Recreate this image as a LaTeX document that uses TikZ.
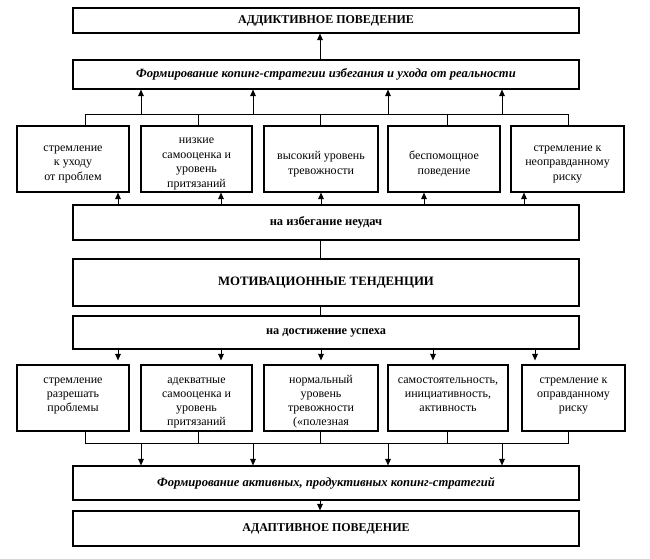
\documentclass[tikz,border=0pt]{standalone}
\usepackage{fontspec}
\setmainfont{Liberation Serif}
\usetikzlibrary{arrows.meta,shadows}
\newcommand{\cellC}[3]{\parbox[c][#2pt][c]{#1pt}{\centering\fontsize{12}{14.5}\selectfont\vspace*{10pt}#3}}
\newcommand{\cellT}[3]{\parbox[c][#2pt][t]{#1pt}{\centering\fontsize{12}{14}\selectfont\vspace*{8.5pt}\strut#3}}
\begin{document}
\begin{tikzpicture}[x=1pt,y=-1pt,
  box/.style={draw=black, line width=1.1pt, fill=white, inner sep=0pt,
    drop shadow={shadow xshift=1.2pt, shadow yshift=-1.2pt, fill=black!60, opacity=0.6}},
  wide/.style={box, minimum width=506pt},
  arr/.style={line width=1pt, -{Triangle[width=5.5pt,length=6.5pt]}},
  ln/.style={line width=1pt},
]
\useasboundingbox (0,0) rectangle (650,559);

% wide boxes
\node[wide, minimum height=25pt] (add) at (326,20.5) {\fontsize{12}{14}\selectfont\bfseries АДДИКТИВНОЕ ПОВЕДЕНИЕ};
\node[wide, minimum height=29pt] (f1) at (326,74.5) {\fontsize{12.6}{14}\selectfont\bfseries\itshape Формирование копинг-стратегии избегания и ухода от реальности};
\node[wide, minimum height=35pt] (izb) at (326,222.5) {\fontsize{12.5}{14}\selectfont\bfseries на избегание неудач};
\node[wide, minimum height=47pt] (mot) at (326,282.5) {\fontsize{12.8}{15}\selectfont\bfseries МОТИВАЦИОННЫЕ ТЕНДЕНЦИИ};
\node[wide, minimum height=33pt] (dos) at (326,332.5) {\fontsize{12.3}{14}\selectfont\bfseries на достижение успеха};
\node[wide, minimum height=34pt] (f2) at (326,483) {\fontsize{12.6}{14}\selectfont\bfseries\itshape Формирование активных, продуктивных копинг-стратегий};
\node[wide, minimum height=35pt] (adp) at (326,528.5) {\fontsize{12}{14}\selectfont\bfseries АДАПТИВНОЕ ПОВЕДЕНИЕ};

% row 1
\node[box] (r1a) at (73,159)   {\cellC{112}{66}{стремление\\к уходу\\от проблем}};
\node[box] (r1b) at (196.5,159){\cellC{111}{66}{низкие\\самооценка и\\уровень\\притязаний}};
\node[box] (r1c) at (321,159)  {\cellC{114}{66}{высокий уровень\\тревожности}};
\node[box] (r1d) at (444,159)  {\cellC{112}{66}{беспомощное\\поведение}};
\node[box] (r1e) at (567.5,159){\cellC{113}{66}{стремление к\\неоправданному\\риску}};

% row 2
\node[box] (r2a) at (73,398)   {\cellT{112}{66}{стремление\\разрешать\\проблемы}};
\node[box] (r2b) at (196.5,398){\cellT{111}{66}{адекватные\\самооценка и\\уровень\\притязаний}};
\node[box] (r2c) at (321,398)  {\cellT{114}{66}{нормальный\\уровень\\тревожности\\(«полезная}};
\node[box] (r2d) at (448,398)  {\cellT{120}{66}{самостоятельность,\\инициативность,\\активность}};
\node[box] (r2e) at (573.5,398){\cellT{103}{66}{стремление к\\оправданному\\риску}};

\coordinate (busT) at (326,115);
\coordinate (busB) at (326,443);

% top part
\draw[arr] (320,0 |- f1.north) -- (320,0 |- add.south);
\draw[ln] (85,0 |- r1a.north) -- (85,0 |- busT) -- (568,0 |- busT) -- (568,0 |- r1e.north);
\draw[ln] (198,0 |- r1b.north) -- (198,0 |- busT);
\draw[ln] (320,0 |- r1c.north) -- (320,0 |- busT);
\draw[ln] (447,0 |- r1d.north) -- (447,0 |- busT);
\foreach \xx in {141,253,388,502} \draw[arr] (\xx,0 |- busT) -- (\xx,0 |- f1.south);

\draw[arr] (118,0 |- izb.north) -- (118,0 |- r1a.south);
\draw[arr] (221,0 |- izb.north) -- (221,0 |- r1b.south);
\draw[arr] (321,0 |- izb.north) -- (321,0 |- r1c.south);
\draw[arr] (424,0 |- izb.north) -- (424,0 |- r1d.south);
\draw[arr] (524,0 |- izb.north) -- (524,0 |- r1e.south);

% middle
\draw[ln] (320,0 |- izb.south) -- (320,0 |- mot.north);
\draw[ln] (320,0 |- mot.south) -- (320,0 |- dos.north);

\draw[arr, shorten >=4pt] (118,0 |- dos.south) -- (118,0 |- r2a.north);
\draw[arr, shorten >=4pt] (221,0 |- dos.south) -- (221,0 |- r2b.north);
\draw[arr, shorten >=4pt] (321,0 |- dos.south) -- (321,0 |- r2c.north);
\draw[arr, shorten >=4pt] (433,0 |- dos.south) -- (433,0 |- r2d.north);
\draw[arr, shorten >=4pt] (535,0 |- dos.south) -- (535,0 |- r2e.north);

% bottom part
\draw[ln] (85,0 |- r2a.south) -- (85,0 |- busB) -- (568,0 |- busB) -- (568,0 |- r2e.south);
\draw[ln] (198,0 |- r2b.south) -- (198,0 |- busB);
\draw[ln] (320,0 |- r2c.south) -- (320,0 |- busB);
\draw[ln] (447,0 |- r2d.south) -- (447,0 |- busB);
\foreach \xx in {141,253,388,502} \draw[arr] (\xx,0 |- busB) -- (\xx,0 |- f2.north);
\draw[arr] (320,0 |- f2.south) -- (320,0 |- adp.north);
\end{tikzpicture}
\end{document}
